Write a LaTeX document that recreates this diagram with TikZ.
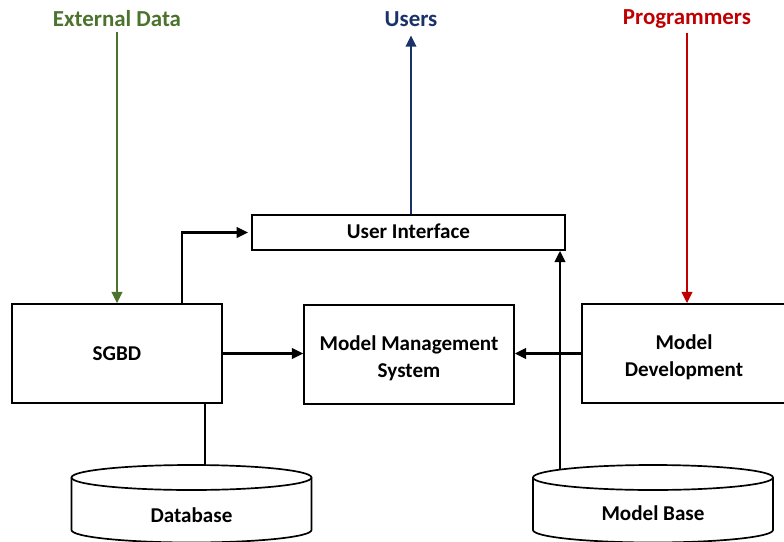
\documentclass[tikz,border=0pt]{standalone}
\usepackage{fontspec}
\setmainfont{Carlito}
\usetikzlibrary{arrows.meta}
\definecolor{extgreen}{RGB}{76,115,45}
\definecolor{usrblue}{RGB}{26,50,105}
\definecolor{progred}{RGB}{192,0,0}
\tikzset{
	box/.style={draw, line width=1.2pt, inner sep=0pt, align=center, font=\bfseries\fontsize{15}{19.5}\selectfont},
	toplabel/.style={font=\bfseries\fontsize{16.3}{19}\selectfont},
	arr/.style={line width=1.6pt, -{Triangle[length=8pt,width=7.5pt]}}
}
\def\drum(#1)(#2:#3){\draw[line width=1.2pt, fill=white] (#1) -- ++(0,-1.3125) arc (180:360:3 and 0.3125) -- (#2); \draw[line width=1.2pt] (#3) ellipse (3 and 0.3125);}
\newcommand{\twolines}[2]{\raisebox{0pt}[\dimexpr\height+6pt\relax][\depth]{\begin{tabular}{@{}c@{}}#1\\#2\end{tabular}}}

\begin{document}
\begin{tikzpicture}
	%%%%% START %%%%%
	\useasboundingbox (0,0) rectangle (19.6,13.525);
	
	\node[toplabel, text=extgreen] (ext) at (2.925,13.05) {External Data};
	\node[toplabel, text=usrblue] (users) at (10.275,13.05) {Users};
	\node[toplabel, text=progred] (prog) at (17.175,13.05) {Programmers};
	
	\node[box, minimum width=7.825cm, minimum height=0.875cm] (ui) at (10.2125,7.7125) {\raisebox{1.5pt}{User Interface}};
	\node[box, minimum width=5.25cm, minimum height=2.475cm] (sgbd) at (2.925,4.6875) {SGBD};
	\node[box, minimum width=5.25cm, minimum height=2.475cm] (mms) at (10.225,4.6625) {\twolines{Model Management}{System}};
	\node[box, minimum width=5.1cm, minimum height=2.475cm] (mdev) at (17.1,4.6875) {\twolines{Model}{Development}};
	
	\drum(1.7875,1.5875)(7.7875,1.5875:4.7875,1.5875)
	\node[font=\bfseries\fontsize{15}{18}\selectfont] (db) at (4.7875,0.64) {Database};
	\coordinate (dbtop) at (5.125,1.898);
	
	\drum(13.325,1.5875)(19.325,1.5875:16.325,1.5875)
	\node[font=\bfseries\fontsize{15}{18}\selectfont] (mb) at (16.325,0.69) {Model Base};
	\coordinate (mbtop) at (14.0,1.81);
	
	\draw[arr, extgreen] (ext.south) -- (sgbd.north);
	\draw[arr, usrblue] (ui.north -| users.south) -- ([yshift=-0.1cm]users.south);
	\draw[arr, progred] (prog.south) -- (prog.south |- mdev.north);
	
	\draw[arr] ([xshift=1.625cm]sgbd.north) |- ([xshift=-0.08cm]ui.west);
	\draw[arr] (sgbd.east) -- (sgbd.east -| mms.west);
	\draw[arr] (mdev.west) -- (mdev.west -| mms.east);
	\draw[line width=1.6pt] (sgbd.south -| dbtop) -- (dbtop);
	\draw[arr] (mbtop) -- (mbtop |- ui.south);
	%%%%% END %%%%%
\end{tikzpicture}
\end{document}
